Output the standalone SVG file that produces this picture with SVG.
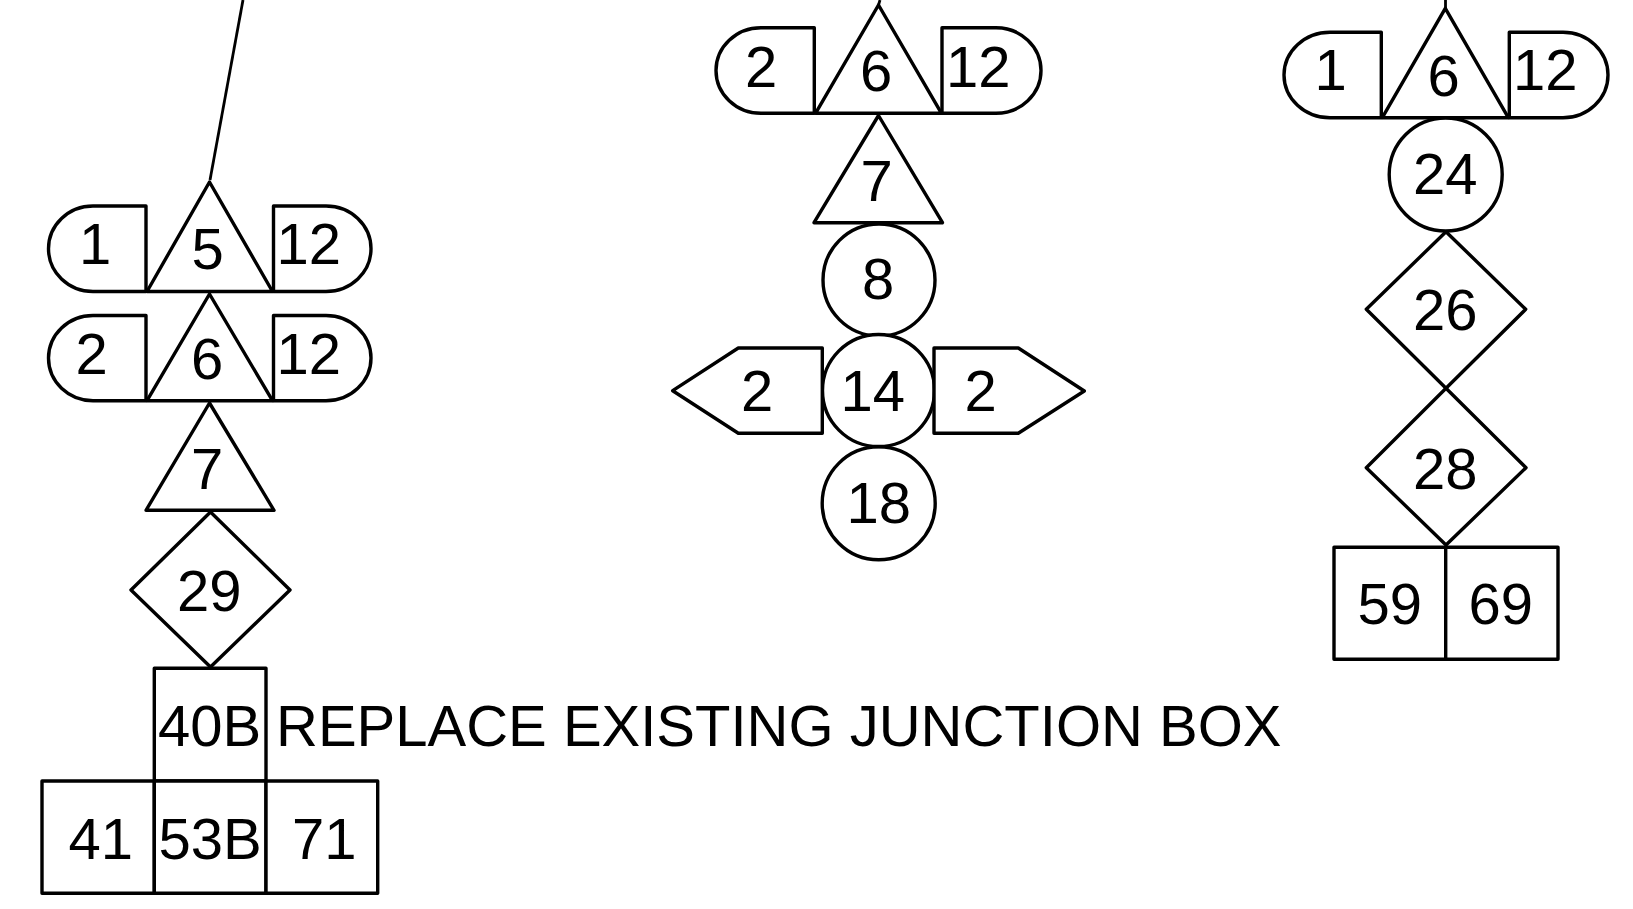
<svg xmlns="http://www.w3.org/2000/svg" width="1633" height="909" viewBox="0 0 1633 909">
<style>
.s{fill:#fff;stroke:#000;stroke-width:3.4;stroke-linejoin:round}
.c{fill:none;stroke:#000;stroke-width:2.8}
text{font-family:"Liberation Sans",Arial,sans-serif;font-size:58px;fill:#000}
</style>
<rect width="1633" height="909" fill="#fff"/>
<g id="connectors">
<path class="c" d="M243,0L210,180"/>
<path class="c" d="M880,0L878.5,5"/>
<path class="c" d="M1445.5,0V8"/>
</g>
<g id="n-left-1"><path class="s" d="M146,206H93A44.5,42.75 0 0 0 93,291.5H146Z"/><text x="79" y="264">1</text></g>
<g id="n-left-12a"><path class="s" d="M273.5,206H326A45,42.75 0 0 1 326,291.5H273.5Z"/><text x="276.5" y="264">12</text></g>
<g id="n-left-5"><path class="s" d="M209.5,182L272.5,291.5H147Z"/><text x="191.5" y="269">5</text></g>
<g id="n-left-2"><path class="s" d="M146,315.5H93A44.5,42.6 0 0 0 93,400.7H146Z"/><text x="75.5" y="373.5">2</text></g>
<g id="n-left-12b"><path class="s" d="M273.5,315.5H326A45,42.6 0 0 1 326,400.7H273.5Z"/><text x="276.5" y="373.5">12</text></g>
<g id="n-left-6"><path class="s" d="M209.5,294L272.5,400.7H147Z"/><text x="191" y="378.5">6</text></g>
<g id="n-left-7"><path class="s" d="M209.5,403L274,510.3H146Z"/><text x="191" y="489">7</text></g>
<g id="n-left-29"><path class="s" d="M210.5,512L290,590L210.5,667L131,590Z"/><text x="177" y="611">29</text></g>
<g id="n-left-40B"><rect class="s" x="154.3" y="668.3" width="111.7" height="112.7"/><text x="158" y="746">40B</text></g>
<g id="n-left-41"><rect class="s" x="42" y="781" width="112.3" height="112.3"/><text x="68.5" y="859">41</text></g>
<g id="n-left-53B"><rect class="s" x="154.3" y="781" width="111.7" height="112.3"/><text x="158.5" y="859">53B</text></g>
<g id="n-left-71"><rect class="s" x="266" y="781" width="111.7" height="112.3"/><text x="292" y="859">71</text></g>
<text id="note" x="276" y="746">REPLACE EXISTING JUNCTION BOX</text>

<g id="n-mid-2"><path class="s" d="M814.3,27.7H761A45,42.8 0 0 0 761,113.3H814.3Z"/><text x="745" y="86.5">2</text></g>
<g id="n-mid-12"><path class="s" d="M942,27.7H996A45,42.8 0 0 1 996,113.3H942Z"/><text x="946" y="86.5">12</text></g>
<g id="n-mid-6"><path class="s" d="M878.5,5L941.5,113.3H815.5Z"/><text x="860" y="91">6</text></g>
<g id="n-mid-7"><path class="s" d="M878.5,115.5L942.5,222.7H814Z"/><text x="860.5" y="200.5">7</text></g>
<g id="n-mid-8"><circle class="s" cx="879" cy="280" r="56"/><text x="862" y="299">8</text></g>
<g id="n-mid-18"><circle class="s" cx="878.7" cy="503.3" r="56.5"/><text x="846.5" y="523.3">18</text></g>
<g id="n-mid-14"><circle class="s" cx="878.5" cy="390.5" r="56"/><text x="840.5" y="410.7">14</text></g>
<g id="n-mid-2l"><path class="s" d="M672.7,390.7L738.3,348H822.3V433.3H738.3Z"/><text x="741" y="410.7">2</text></g>
<g id="n-mid-2r"><path class="s" d="M934,348H1018.3L1084.3,391L1018.3,433.3H934Z"/><text x="964.5" y="411">2</text></g>

<g id="n-right-1"><path class="s" d="M1381.3,32.3H1330A46,42.7 0 0 0 1330,117.7H1381.3Z"/><text x="1314.5" y="90">1</text></g>
<g id="n-right-12"><path class="s" d="M1509.3,32.3H1563A45,42.7 0 0 1 1563,117.7H1509.3Z"/><text x="1513" y="90.3">12</text></g>
<g id="n-right-6"><path class="s" d="M1445.3,8.3L1508.3,117.7H1382.3Z"/><text x="1427.5" y="95.5">6</text></g>
<g id="n-right-24"><circle class="s" cx="1445.7" cy="174.5" r="56.5"/><text x="1413" y="193.5">24</text></g>
<g id="n-right-26"><path class="s" d="M1446,231.7L1525.7,309.3L1446,388.3L1366.3,309.3Z"/><text x="1413" y="330">26</text></g>
<g id="n-right-28"><path class="s" d="M1446,388.3L1526,467.7L1446,545L1366.3,467.7Z"/><text x="1413" y="489">28</text></g>
<g id="n-right-59"><rect class="s" x="1334" y="547.3" width="111.7" height="112"/><text x="1357.5" y="624.3">59</text></g>
<g id="n-right-69"><rect class="s" x="1445.7" y="547.3" width="112.3" height="112"/><text x="1468.5" y="624.3">69</text></g>
</svg>
